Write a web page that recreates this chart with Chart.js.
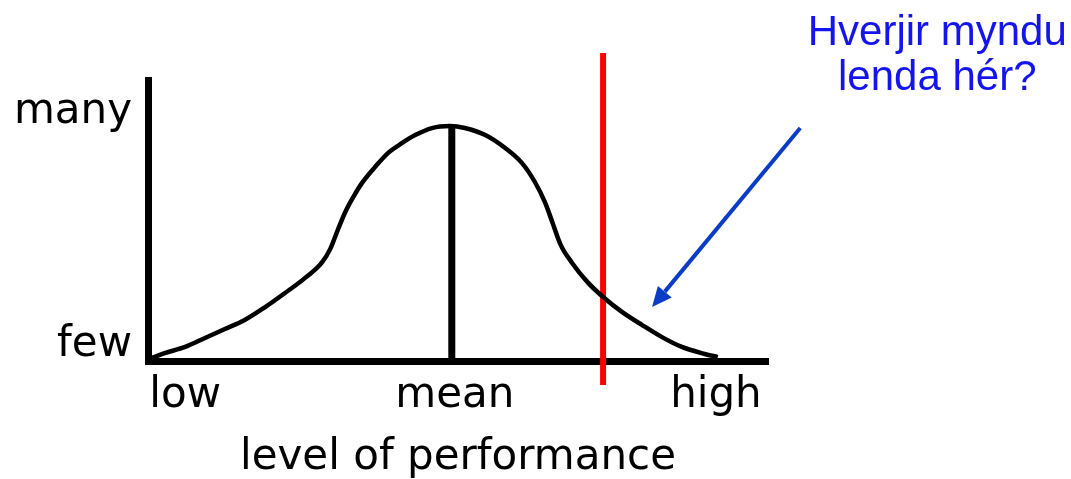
<!DOCTYPE html>
<html>
<head>
<meta charset="utf-8">
<script src="https://cdn.jsdelivr.net/npm/chart.js@4.4.1/dist/chart.umd.min.js"></script>
<style>
body { margin: 0; background: #fff; }
#wrap { position: relative; width: 1071px; height: 479px; }
</style>
</head>
<body>
<div id="wrap"><canvas id="chart"></canvas></div>
<script>
// bell curve, x = level of performance (0-100), y = how many (0-100)
var curveX = [0.6, 2.7, 6.0, 9.2, 12.4, 15.6, 18.9, 22.1, 25.3, 28.1, 29.4, 30.6, 31.9, 33.2, 34.5, 36.6, 38.7, 41.0, 43.1, 45.8, 48.7, 51.1, 54.4, 57.6, 60.3, 62.4, 64.0, 65.2, 66.5, 68.4, 71.0, 73.4, 76.5, 79.7, 82.9, 86.1, 89.8, 91.9];
var curveY = [1.1, 2.8, 5.0, 8.2, 11.4, 14.6, 19.2, 24.2, 29.5, 35.2, 39.9, 46.6, 53.4, 58.7, 63.3, 69.0, 74.0, 77.6, 80.4, 82.9, 83.6, 82.9, 80.4, 75.8, 70.5, 63.7, 56.6, 49.5, 41.6, 34.9, 27.8, 22.8, 17.4, 12.8, 8.5, 5.0, 2.5, 1.4];

var meanX = 49;
var meanTop = 83.3;

var cutX = 73.4;
var cutY = [-8.5, 109.6];

var xTickValues = [6.0, 49.5, 91.6];
var xTickLabels = ['low', 'mean', 'high'];
var yTickValues = [5.7, 88.6];
var yTickLabels = ['few', 'many'];

var arrowFrom = [105.2, 82.9];
var arrowTo = [81.3, 19.2];
var noteLines = ['Hverjir myndu', 'lenda hér?'];
var noteX = 127.3;
var noteY = [112.5, 96.4];

var axisFont = { family: '"DejaVu Sans", Verdana, sans-serif', size: 42 };

var notePlugin = {
  id: 'note',
  afterDatasetsDraw: function(chart) {
    var xs = chart.scales.x, ys = chart.scales.y, ctx = chart.ctx;
    var x1 = xs.getPixelForValue(arrowFrom[0]), y1 = ys.getPixelForValue(arrowFrom[1]);
    var x2 = xs.getPixelForValue(arrowTo[0]), y2 = ys.getPixelForValue(arrowTo[1]);
    var ang = Math.atan2(y2 - y1, x2 - x1);
    var head = 20, half = 9;
    var bx = x2 - head * Math.cos(ang), by = y2 - head * Math.sin(ang);
    ctx.save();
    ctx.strokeStyle = '#0a3cc8';
    ctx.fillStyle = '#0a3cc8';
    ctx.lineWidth = 4;
    ctx.beginPath();
    ctx.moveTo(x1, y1);
    ctx.lineTo(bx, by);
    ctx.stroke();
    ctx.beginPath();
    ctx.moveTo(x2, y2);
    ctx.lineTo(bx + half * Math.sin(ang), by - half * Math.cos(ang));
    ctx.lineTo(bx - half * Math.sin(ang), by + half * Math.cos(ang));
    ctx.closePath();
    ctx.fill();

    ctx.font = '42px "Liberation Sans", Arial, sans-serif';
    ctx.fillStyle = '#1414f0';
    ctx.textAlign = 'center';
    ctx.textBaseline = 'alphabetic';
    for (var i = 0; i < noteLines.length; i++) {
      ctx.fillText(noteLines[i], xs.getPixelForValue(noteX), ys.getPixelForValue(noteY[i]));
    }
    ctx.restore();
  }
};

var chart = new Chart(document.getElementById('chart'), {
  type: 'line',
  data: {
    datasets: [{
      data: curveX.map(function(x, i) { return { x: x, y: curveY[i] }; }),
      borderColor: '#000',
      borderWidth: 4.5,
      pointRadius: 0,
      cubicInterpolationMode: 'monotone',
      fill: false
    }, {
      data: [{ x: meanX, y: 0 }, { x: meanX, y: meanTop }],
      borderColor: '#000',
      borderWidth: 7,
      pointRadius: 0
    }, {
      data: [{ x: cutX, y: cutY[0] }, { x: cutX, y: cutY[1] }],
      borderColor: '#ff0000',
      borderWidth: 6,
      pointRadius: 0,
      clip: false
    }]
  },
  options: {
    responsive: true,
    maintainAspectRatio: false,
    animation: false,
    layout: { padding: { left: 0, top: 80, right: 303, bottom: 0 } },
    plugins: {
      legend: { display: false },
      tooltip: { enabled: false }
    },
    scales: {
      x: {
        type: 'linear',
        min: 0,
        max: 100,
        afterFit: function(scale) { scale.height = 118; },
        afterBuildTicks: function(scale) {
          scale.ticks = xTickValues.map(function(v) { return { value: v }; });
        },
        grid: { display: false, drawTicks: false },
        border: { display: true, color: '#000', width: 7 },
        ticks: {
          autoSkip: false,
          maxRotation: 0,
          padding: 10,
          color: '#000',
          font: axisFont,
          callback: function(v, i) { return xTickLabels[i]; }
        },
        title: {
          display: true,
          text: 'level of performance',
          color: '#000',
          font: { family: axisFont.family, size: 42, lineHeight: 1 },
          padding: { top: 0, bottom: 0 }
        }
      },
      y: {
        type: 'linear',
        min: 0,
        max: 100,
        afterFit: function(scale) { scale.width = 148; },
        afterBuildTicks: function(scale) {
          scale.ticks = yTickValues.map(function(v) { return { value: v }; });
        },
        grid: { display: false, drawTicks: false },
        border: { display: true, color: '#000', width: 7 },
        ticks: {
          autoSkip: false,
          padding: 16,
          color: '#000',
          font: axisFont,
          callback: function(v, i) { return yTickLabels[i]; }
        }
      }
    }
  },
  plugins: [notePlugin]
});
</script>
</body>
</html>
